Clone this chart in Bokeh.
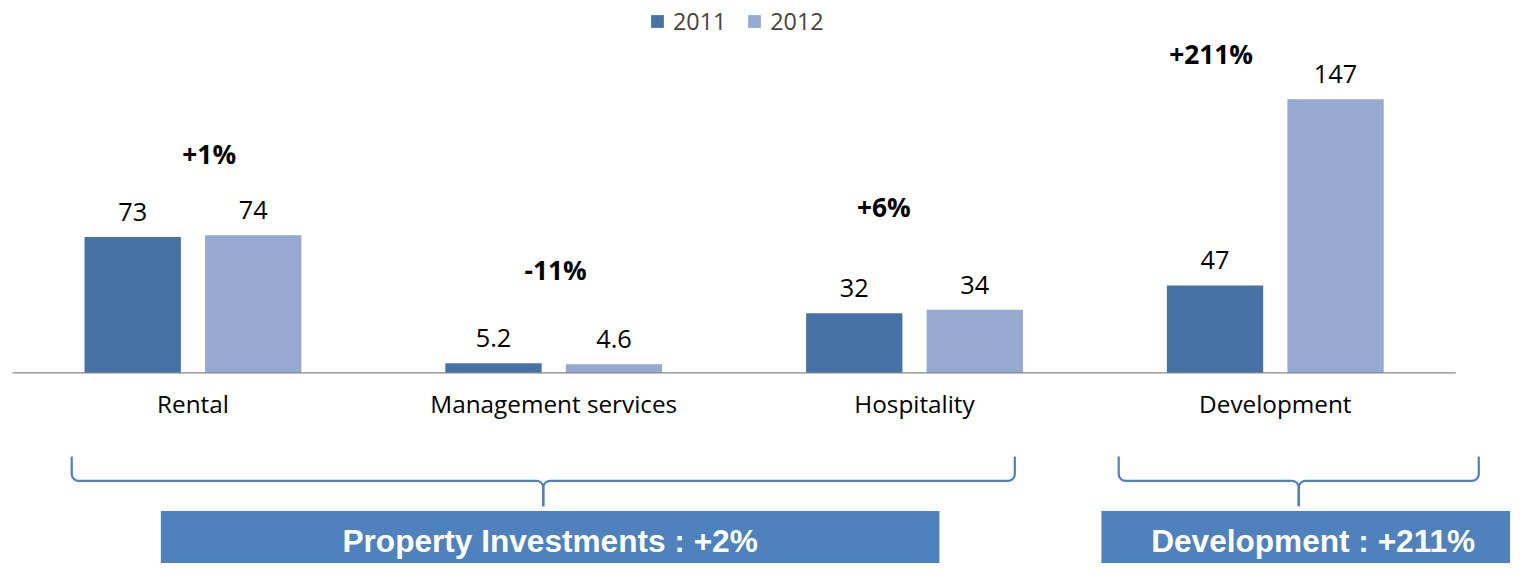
import math
from bokeh.plotting import figure
from bokeh.models import ColumnDataSource, Range1d, Legend, LegendItem
from bokeh.core.properties import value
from bokeh.embed import file_html
from bokeh.resources import INLINE

# ---------------- data ----------------
categories = ["Rental", "Management services", "Hospitality", "Development"]
values_2011 = [73, 5.2, 32, 47]
values_2012 = [74, 4.6, 34, 147]
series_names = ["2011", "2012"]
change_labels = ["+1%", "-11%", "+6%", "+211%"]
segment_labels = ["Property Investments : +2%", "Development : +211%"]

# ---------------- layout (geometry of the 1526x579 reference) ----------------
W, H = 1510, 563
REF_W, REF_H = 1526, 579
SX, SY = W / REF_W, H / REF_H
PX_PER_CAT = 364.6          # reference px per category slot
CAT0_PX = 12.2              # reference x of left edge of first category slot
BASE_PX = 383.0             # reference y of the zero line
PX_PER_VAL = 1.914          # reference px per value unit
BAR_W = 0.267
DODGE = 0.167

C_2011 = "#4672A6"
C_2012 = "#95A9D1"
C_ACCENT = "#4F81BD"
FONT = "Open Sans"

def X(px):
    return (px - CAT0_PX) / PX_PER_CAT

def Y(py):
    return (BASE_PX - py) / PX_PER_VAL

def fs(px):
    return f"{px * SY:.1f}px"

# change label placement (offset from category centre, baseline value height)
change_dx = [0.045, 0.005, -0.085, -0.178]
change_y = [111.0, 49.0, 82.5, 165.0]
# brace / box spans in category units
brace_spans = [(0.164, 2.778), (3.066, 4.064)]
box_spans = [(0.411, 2.569), (3.018, 4.192)]

n = len(categories)
xc = [i + 0.5 for i in range(n)]
src = ColumnDataSource(dict(
    x1=[x - DODGE for x in xc],
    x2=[x + DODGE for x in xc],
    xc=xc,
    v1=values_2011,
    v2=values_2012,
    l1=[f"{v:g}" for v in values_2011],
    l2=[f"{v:g}" for v in values_2012],
    cat=categories,
    chg=change_labels,
    chx=[x + d for x, d in zip(xc, change_dx)],
    chy=change_y,
))

p = figure(width=W, height=H,
           x_range=Range1d(X(0), X(REF_W)),
           y_range=Range1d(Y(REF_H), Y(0)),
           output_backend="svg", toolbar_location=None,
           x_axis_location=None, y_axis_location=None,
           min_border=0)
p.grid.visible = False
p.outline_line_color = None
p.background_fill_color = "white"
p.border_fill_color = "white"

r1 = p.vbar(x="x1", top="v1", width=BAR_W, source=src, fill_color=C_2011, line_color=None)
r2 = p.vbar(x="x2", top="v2", width=BAR_W, source=src, fill_color=C_2012, line_color=None)

# zero line
p.line([0, n], [0, 0], line_color="#868686", line_width=1.3)

# value labels
common = dict(text_font=value(FONT), text_align="center", text_baseline="alphabetic",
              text_color="black")
p.text(x="x1", y="v1", text="l1", source=src, y_offset=-25, text_font_size=fs(26), **common)
p.text(x="x2", y="v2", text="l2", source=src, y_offset=-25, text_font_size=fs(26), **common)

# category labels
p.text(x="xc", y=0, text="cat", source=src, y_offset=31, text_font_size=fs(25), **common)

# change labels
p.text(x="chx", y="chy", text="chg", source=src, y_offset=-12, text_font_size=fs(27),
       text_font_style="bold", **common)

# braces
def brace(xl, xr, top=469.0, mid=494.0, tip=520.0, r=7.0, steps=8):
    xl_px = CAT0_PX + xl * PX_PER_CAT
    xr_px = CAT0_PX + xr * PX_PER_CAT
    xm = (xl_px + xr_px) / 2
    pts = [(xl_px, top), (xl_px, mid - r)]
    for k in range(1, steps + 1):
        t = k / steps * math.pi / 2
        pts.append((xl_px + r - r * math.cos(t), mid - r + r * math.sin(t)))
    pts.append((xm - r, mid))
    for k in range(1, steps + 1):
        t = k / steps * math.pi / 2
        pts.append((xm - r + r * math.sin(t), mid + r - r * math.cos(t)))
    pts.append((xm, tip))
    left = [(X(a), Y(b)) for a, b in pts]
    right = [(X(xl_px + xr_px - a), Y(b)) for a, b in pts]
    return [[q[0] for q in left], [q[0] for q in right]], [[q[1] for q in left], [q[1] for q in right]]

bx, by = [], []
for span in brace_spans:
    xs, ys = brace(*span)
    bx += xs
    by += ys
p.multi_line(bx, by, line_color=C_ACCENT, line_width=2.2)

# summary boxes
bsrc = ColumnDataSource(dict(
    left=[s[0] for s in box_spans],
    right=[s[1] for s in box_spans],
    top=[Y(525)] * len(box_spans),
    bottom=[Y(600)] * len(box_spans),
    xm=[(s[0] + s[1]) / 2 for s in box_spans],
    ym=[Y(565)] * len(box_spans),
    txt=segment_labels,
))
p.quad(left="left", right="right", top="top", bottom="bottom", source=bsrc,
       fill_color=C_ACCENT, line_color=None)
p.text(x="xm", y="ym", text="txt", source=bsrc, text_font=value("Liberation Sans"),
       y_offset=-9, text_font_size=fs(32.5), text_font_style="bold", text_color="white",
       text_align="center", text_baseline="alphabetic")

# legend
legend = Legend(items=[LegendItem(label=series_names[0], renderers=[r1]),
                       LegendItem(label=series_names[1], renderers=[r2])],
                orientation="horizontal", location=(649, 526),
                border_line_color=None, background_fill_alpha=0,
                label_text_font=FONT, label_text_font_size=fs(24),
                glyph_width=16, glyph_height=16, label_standoff=8,
                spacing=20, padding=0, margin=0)
p.add_layout(legend)

open("out.html", "w").write(file_html(p, INLINE))
